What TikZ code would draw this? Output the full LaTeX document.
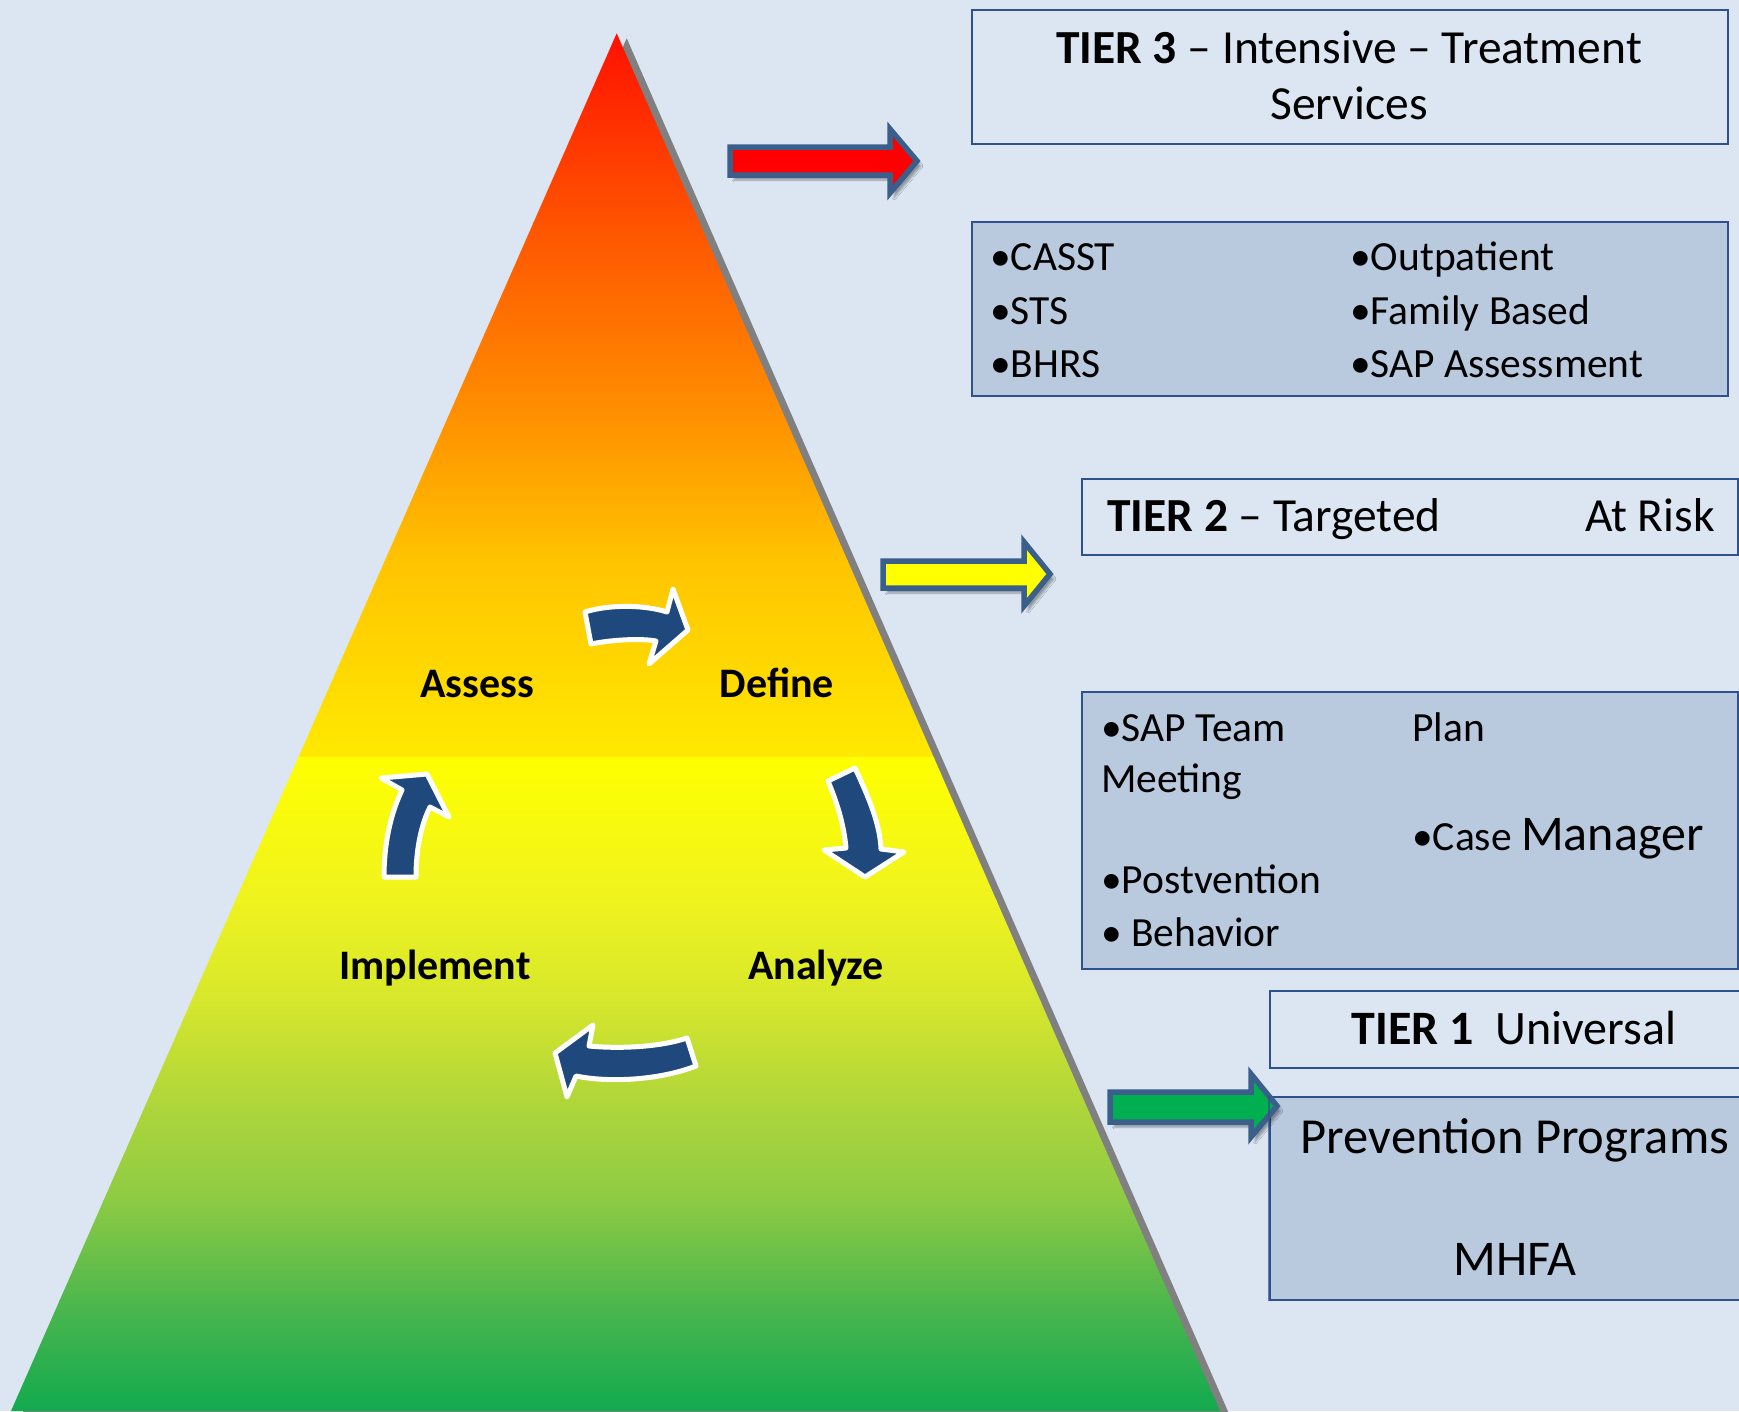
\documentclass[tikz,border=0pt]{standalone}
\usepackage{fontspec}
\setmainfont{Carlito}
\usetikzlibrary{shadows.blur}
\definecolor{bgc}{HTML}{DCE6F2}
\definecolor{boxline}{HTML}{2F528F}
\definecolor{boxdark}{HTML}{B9C9DE}
\definecolor{arrline}{HTML}{3A5F8B}
\definecolor{cycc}{HTML}{1F497D}
\definecolor{shadowgray}{HTML}{808080}
\definecolor{arrred}{HTML}{FF0000}
\definecolor{arryel}{HTML}{FFFF00}
\definecolor{arrgrn}{HTML}{00B050}
\definecolor{c1}{HTML}{FF1000}\definecolor{c2}{HTML}{FF5300}\definecolor{c3}{HTML}{FF7600}
\definecolor{c4}{HTML}{FF9A00}\definecolor{c5}{HTML}{FFC400}\definecolor{c6}{HTML}{FFDE00}
\definecolor{c7}{HTML}{FFEA00}\definecolor{d1}{HTML}{FFFF00}\definecolor{d2}{HTML}{EFF31E}
\definecolor{d3}{HTML}{D6E72C}\definecolor{d4}{HTML}{B0D63A}\definecolor{d5}{HTML}{8DCB44}
\definecolor{d6}{HTML}{4FB74D}\definecolor{d7}{HTML}{0FA94F}
\newcommand\pyrband[4]{\shade[top color=#3,bottom color=#4] (0,#1) rectangle (1240,#2+1);}
\begin{document}
\begin{tikzpicture}[x=1pt,y=-1pt,
  lightbox/.style={draw=boxline,line width=2pt,fill=bgc,anchor=north west,inner sep=0pt},
  darkbox/.style={draw=boxline,line width=2pt,fill=boxdark,anchor=north west,inner sep=0pt},
  blockarrow/.style={draw=arrline,line width=5.5pt,line join=miter,
    blur shadow={shadow xshift=4pt,shadow yshift=-5pt,shadow blur steps=6,shadow opacity=35}},
  cyclearrow/.style={fill=cycc,draw=white,line width=5pt,line join=round},
  cyclabel/.style={font=\fontsize{42}{50}\selectfont\bfseries,anchor=base,inner sep=0pt},
  listtext/.style={font=\fontsize{41.5}{49}\selectfont,anchor=base west,inner sep=0pt},
  titletext/.style={font=\fontsize{47.5}{56}\selectfont,inner sep=0pt}]
\fill[bgc] (0,0) rectangle (1739,1411);
\useasboundingbox (0,0) rectangle (1739,1411);
% pyramid shadow
\fill[shadowgray] (626.7,38.3) -- (1230,1416) -- (21,1416) -- cycle;
% pyramid gradient
\begin{scope}
\clip (616.7,33.3) -- (1220,1411) -- (11,1411) -- cycle;
\pyrband{30}{222}{c1}{c2}
\pyrband{222}{333}{c2}{c3}
\pyrband{333}{444}{c3}{c4}
\pyrband{444}{560}{c4}{c5}
\pyrband{560}{700}{c5}{c6}
\pyrband{700}{757}{c6}{c7}
\pyrband{757}{900}{d1}{d2}
\pyrband{900}{1000}{d2}{d3}
\pyrband{1000}{1100}{d3}{d4}
\pyrband{1100}{1200}{d4}{d5}
\pyrband{1200}{1300}{d5}{d6}
\pyrband{1300}{1415}{d6}{d7}
\end{scope}
% cycle arrows
\draw[cyclearrow] (585,612) .. controls (610,604) and (645,605) .. (667,612) -- (673,589)
  -- (688,630) -- (649,664) -- (656,641) .. controls (640,638) and (610,640) .. (591,644) -- cycle;
\draw[cyclearrow] (828,781) -- (855,768) .. controls (870,800) and (880,825) .. (881,849)
  -- (904,852) -- (865,877) -- (824,850) -- (846,848) .. controls (844,826) and (838,805) .. (828,781) -- cycle;
\draw[cyclearrow] (687,1038) -- (696,1066) .. controls (660,1080) and (610,1083) .. (576,1076)
  -- (567,1097) -- (555,1053) -- (593,1025) -- (589,1046) .. controls (620,1049) and (660,1047) .. (687,1038) -- cycle;
\draw[cyclearrow] (384,877) -- (416,877) .. controls (416,850) and (421,825) .. (430,807)
  -- (449,817) -- (427,774) -- (381,778) -- (402,790) .. controls (390,815) and (384,845) .. (384,877) -- cycle;
% cycle labels
\node[cyclabel] (assess) at (477,697) {Assess};
\node[cyclabel] (define) at (777,697) {Define};
\node[cyclabel] (implement) at (435,979) {Implement};
\node[cyclabel] (analyze) at (816,979) {Analyze};
% tier 3
\node[lightbox,minimum width=756pt,minimum height=134pt] (t3box) at (971,9) {};
\node[titletext,anchor=base] (t3a) at (1349,63) {\textbf{TIER 3} – Intensive – Treatment};
\node[titletext,anchor=base] (t3b) at (1349,119) {Services};
\node[darkbox,minimum width=756pt,minimum height=174pt] (t3list) at (971,221) {};
\node[listtext] (i1) at (990,270) {•CASST};
\node[listtext] (i2) at (990,324) {•STS};
\node[listtext] (i3) at (990,377) {•BHRS};
\node[listtext] (i4) at (1350,270) {•Outpatient};
\node[listtext] (i5) at (1350,324) {•Family Based};
\node[listtext] (i6) at (1350,377) {•SAP Assessment};
% tier 2
\node[lightbox,minimum width=656pt,minimum height=76pt] (t2box) at (1081,478) {};
\node[titletext,anchor=base west] (t2a) at (1107,531) {\textbf{TIER 2} – Targeted};
\node[titletext,anchor=base east] (t2b) at (1715,531) {At Risk};
\node[darkbox,minimum width=656pt,minimum height=277pt] (t2list) at (1081,691) {};
\node[listtext] (j1) at (1101,741) {•SAP Team};
\node[listtext] (j2) at (1101,792) {Meeting};
\node[listtext] (j3) at (1412,741) {Plan};
\node[listtext] (j4) at (1412,850) {•Case {\fontsize{50}{60}\selectfont Manager}};
\node[listtext] (j5) at (1101,893) {•Postvention};
\node[listtext] (j6) at (1101,946) {• Behavior};
% tier 1
\node[lightbox,minimum width=480pt,minimum height=77pt] (t1box) at (1269,990) {};
\node[font=\fontsize{48}{58}\selectfont,anchor=base,inner sep=0pt] (t1a) at (1514,1044) {\textbf{TIER 1}\ \ Universal};
\node[darkbox,minimum width=480pt,minimum height=203pt] (t1list) at (1269,1096) {};
\node[font=\fontsize{50.5}{59}\selectfont,anchor=base,inner sep=0pt] (t1b) at (1515,1153) {Prevention Programs};
\node[font=\fontsize{50}{60}\selectfont,anchor=base,inner sep=0pt] (t1c) at (1515,1275) {MHFA};
% block arrows
\draw[blockarrow,fill=arrred] (730,147) -- (890,147) -- (890,129) -- (917,161) -- (890,193) -- (890,175) -- (730,175) -- cycle;
\draw[blockarrow,fill=arryel] (883,561) -- (1024,561) -- (1024,542) -- (1050,574) -- (1024,606) -- (1024,588) -- (883,588) -- cycle;
\draw[blockarrow,fill=arrgrn] (1110,1092) -- (1251,1092) -- (1251,1074) -- (1277,1106) -- (1251,1137) -- (1251,1122) -- (1110,1122) -- cycle;
\draw[boxline,line width=2pt,draw opacity=0.7] (t1list.north west) -- (t1list.south west);
\end{tikzpicture}
\end{document}
